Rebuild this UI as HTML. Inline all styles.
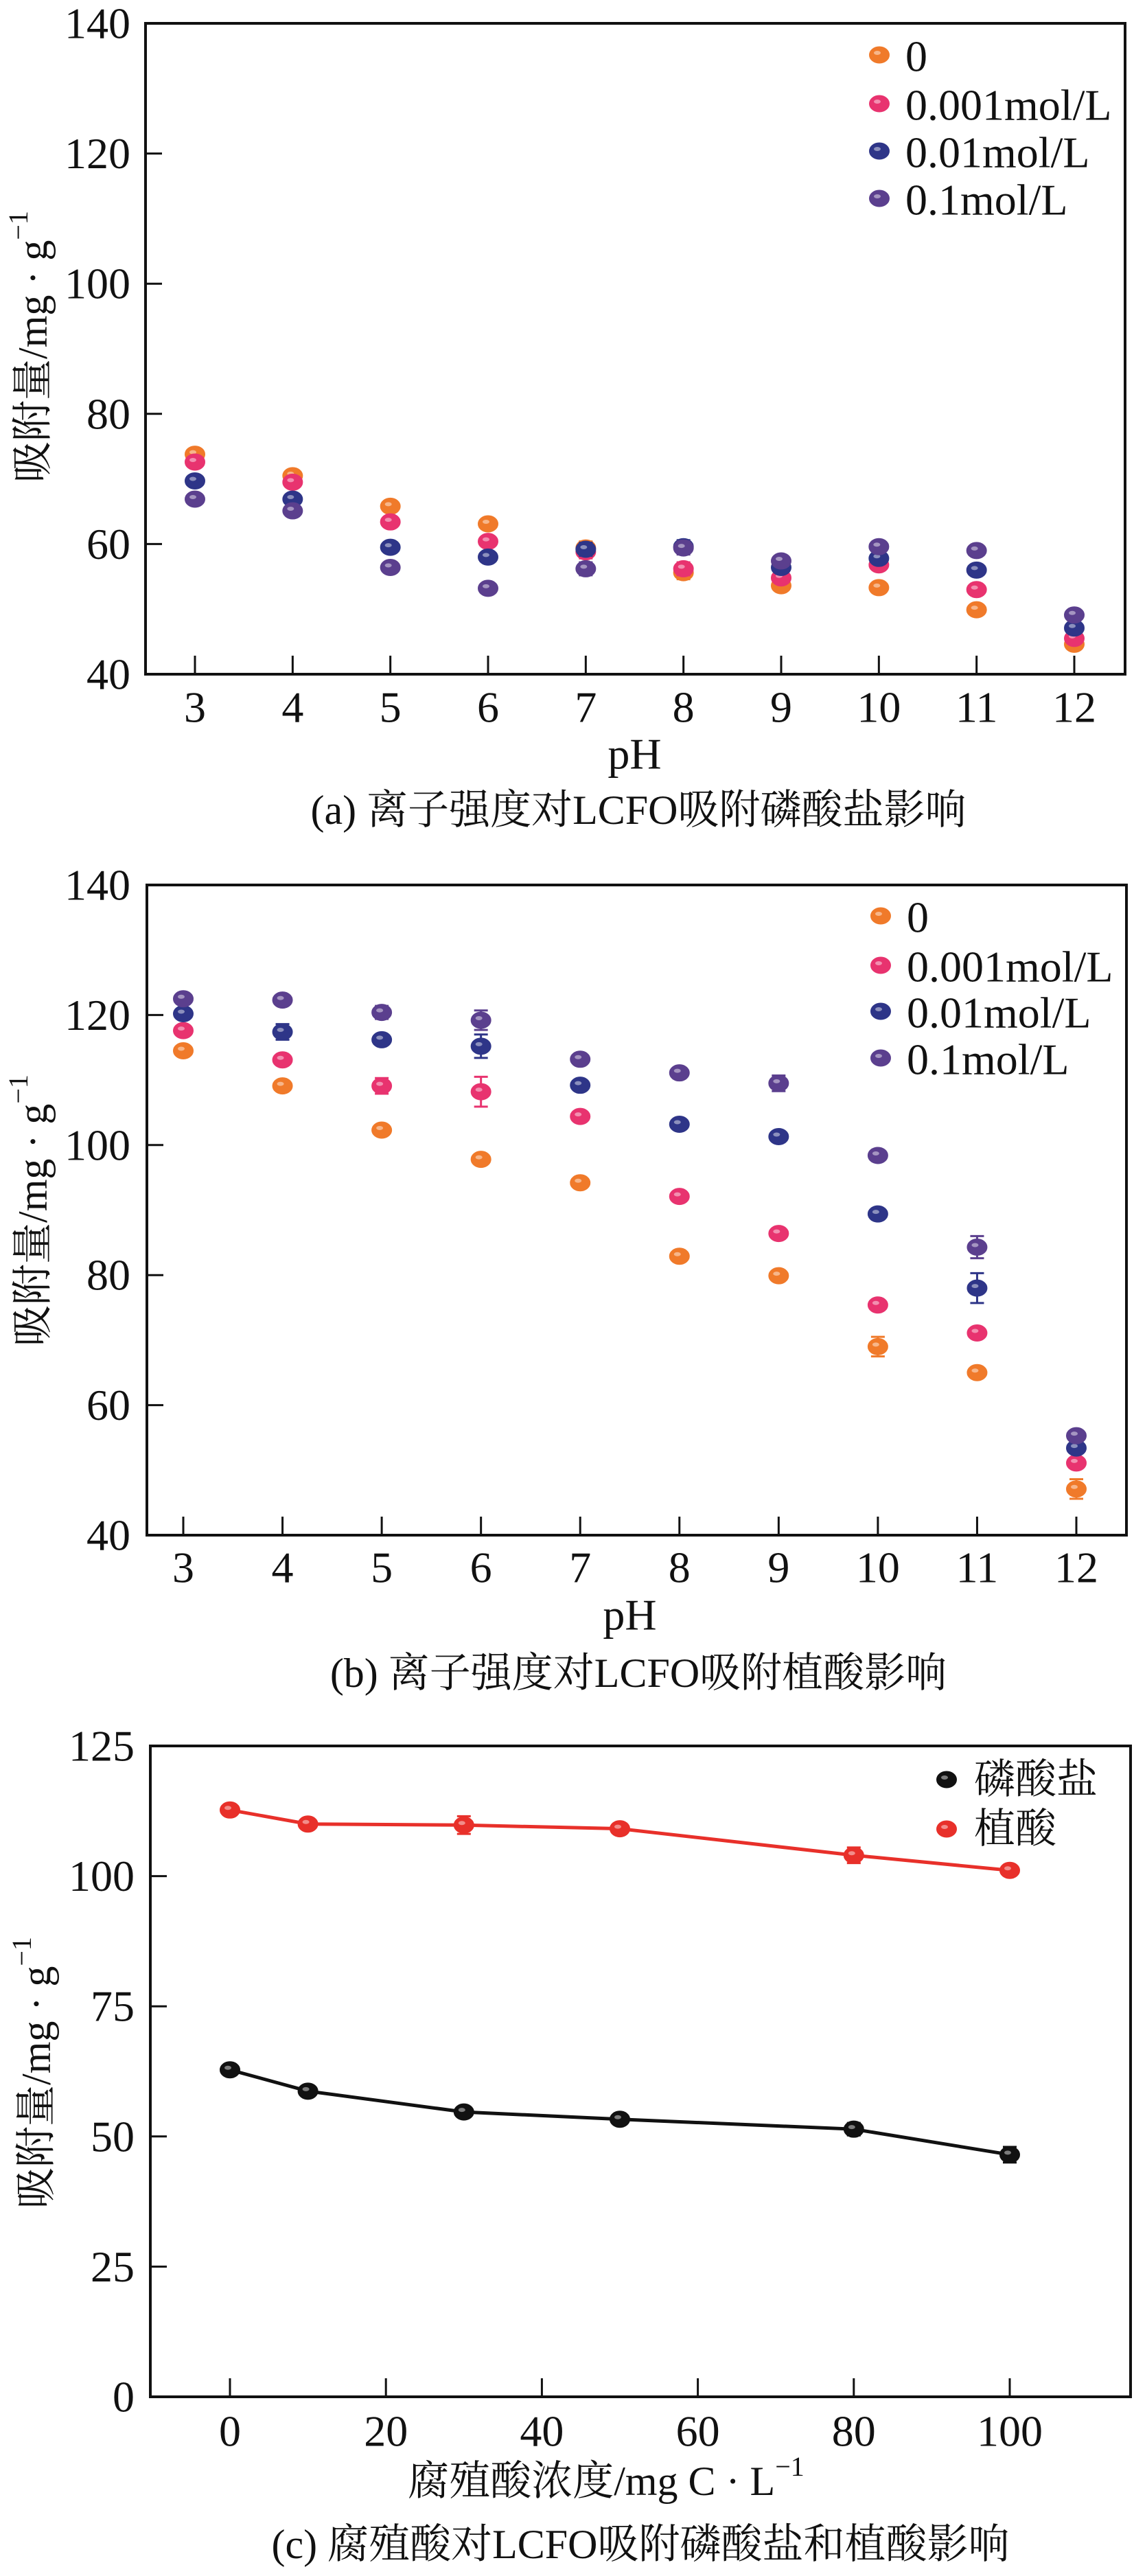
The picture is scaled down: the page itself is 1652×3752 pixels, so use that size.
<!DOCTYPE html>
<html><head><meta charset="utf-8">
<style>
html,body{margin:0;padding:0;background:#fff;}
svg{display:block;}
text{font-family:"Liberation Serif","Noto Serif CJK SC","Noto Sans CJK SC",serif;fill:#111;}
.tk{font-size:64px;}
.cap{font-size:60px;}
</style></head>
<body>
<svg id="fig" width="1652" height="3752" viewBox="0 0 1652 3752" xmlns="http://www.w3.org/2000/svg"></svg>
<script>
// ---------- data ----------
const phCats = [3,4,5,6,7,8,9,10,11,12];
const seriesNames = ["0","0.001mol/L","0.01mol/L","0.1mol/L"];
const aOrange = [73.8,70.5,65.8,63.1,59.4,55.6,53.6,53.3,49.9,44.6];
const aPink   = [72.6,69.5,63.4,60.4,58.8,56.2,54.8,56.8,53.0,45.5];
const aBlue   = [69.7,66.9,59.5,58.0,59.2,59.6,56.4,57.8,56.0,47.1];
const aPurple = [66.9,65.1,56.4,53.2,56.2,59.4,57.4,59.6,59.0,49.1];
const bOrange = [114.5,109.1,102.3,97.8,94.2,82.9,79.9,69.0,65.0,47.1];
const bPink   = [117.6,113.1,109.1,108.2,104.4,92.1,86.4,75.4,71.1,51.1];
const bBlue   = [120.2,117.4,116.2,115.2,109.2,103.2,101.3,89.4,78.0,53.4];
const bPurple = [122.5,122.3,120.4,119.2,113.2,111.1,109.5,98.4,84.3,55.3];
const bErrOrange=[0.6,0.6,0.6,0.6,0.8,0.8,0.6,1.5,0.6,1.5];
const bErrPink  =[0.6,0.6,1.2,2.3,0.8,0.6,0.6,0.6,0.8,0.8];
const bErrBlue  =[0.6,1.2,0.8,1.8,0.6,0.6,0.8,0.8,2.3,0.8];
const bErrPurple=[0.8,0.6,1.0,1.5,0.8,0.6,1.2,0.8,1.7,0.8];
const aErr = [0.8,0.8,0.8,0.8,1.0,1.0,0.8,0.8,0.8,0.6];
const phTicks = [40,60,80,100,120,140];
const haConc = [0,10,30,50,80,100];
const phosphate = [62.8,58.7,54.7,53.3,51.4,46.5];
const phytic = [112.7,110.0,109.8,109.1,104.0,101.1];
const phosErr = [0.8,0.8,0.8,1.0,1.2,1.5];
const phytErr = [0.6,0.6,1.7,0.8,1.5,0.8];
const cYTicks = [0,25,50,75,100,125];
const cXTicks = [0,20,40,60,80,100];
const colors = ["#f07a2a","#e8336f","#2e3588","#5b3f8e"];

const NS="http://www.w3.org/2000/svg";
const svg=document.getElementById('fig');
function mk(tag,attrs,parent){const e=document.createElementNS(NS,tag);for(const k in attrs)e.setAttribute(k,attrs[k]);(parent||svg).appendChild(e);return e;}
function txt(s,x,y,cls,anchor,parent){const t=mk('text',{x:x,y:y,'class':cls,'text-anchor':anchor||'middle','dominant-baseline':'central'},parent);t.textContent=s;return t;}

function marker(g,x,y,c){
  const m=mk('ellipse',{cx:x,cy:y,rx:14,ry:11.5,fill:c,stroke:c,'stroke-width':2},g);
  mk('ellipse',{cx:x-3,cy:y-3,rx:5,ry:3,fill:'#fff','fill-opacity':0.45},g);
  return m;
}
function errbar(g,x,y0,y1,c){
  mk('line',{x1:x,y1:y0,x2:x,y2:y1,stroke:c,'stroke-width':3},g);
  mk('line',{x1:x-10,y1:y0,x2:x+10,y2:y0,stroke:c,'stroke-width':3},g);
  mk('line',{x1:x-10,y1:y1,x2:x+10,y2:y1,stroke:c,'stroke-width':3},g);
}

function frame(g,L,R,T,B){
  mk('rect',{x:L,y:T,width:R-L,height:B-T,fill:'none',stroke:'#111','stroke-width':4},g);
}
function yTitle(g,x,y){
  const t=mk('text',{x:0,y:0,'class':'cap','text-anchor':'middle','dominant-baseline':'central',transform:`translate(${x},${y}) rotate(-90)`},g);
  
  
  t.innerHTML='吸附量/mg · g<tspan dy="-22" font-size="40">−1</tspan>';
}

// ---------- pH charts ----------
function phChart(id,L,R,T,B,x3,x12,data,errs,legendX,legendY,tlY,pHY,capY,capText,titleY){
  const g=mk('g',{});
  
  
  const ys=v=>B-(v-40)/100*(B-T);
  const xs=p=>x3+(p-3)/9*(x12-x3);
  frame(g,L,R,T,B);
  phTicks.forEach(v=>{
    const y=ys(v);
    if(v>40&&v<140) mk('line',{x1:L,y1:y,x2:L+24,y2:y,stroke:'#111','stroke-width':3},g);
    const t=txt(String(v),190,y,'tk','end',g);
    
    
  });
  phCats.forEach(p=>{
    const x=xs(p);
    mk('line',{x1:x,y1:B,x2:x,y2:B-27,stroke:'#111','stroke-width':3},g);
    const t=txt(String(p),x,tlY,'tk','middle',g);
    
    
  });
  const xt=txt('pH',xs(7.5),pHY,'tk','middle',g);
  
  
  yTitle(g,48,titleY);
  data.forEach((arr,si)=>{
    const sg=mk('g',{},g);
    
    
    arr.forEach((v,i)=>{
      const x=xs(phCats[i]);
      const e=errs[si][i];
      errbar(sg,x,ys(v+e),ys(v-e),colors[si]);
      const m=marker(sg,x,ys(v),colors[si]);
      
      
    });
  });
  const lg=mk('g',{},g);
  
  
  seriesNames.forEach((n,i)=>{
    marker(lg,legendX,legendY[i],colors[i]);
    const t=txt(n,legendX+38,legendY[i]+2,'tk','start',lg);
    
    
  });
  const c=txt(capText,930,capY,'cap','middle',g);
  
  
}
phChart('chart-a-phosphate',212,1639,34,982,284,1565,[aOrange,aPink,aBlue,aPurple],[aErr,aErr,aErr,aErr],1281,[80,151,220,289],1030,1098,1180,'(a) 离子强度对LCFO吸附磷酸盐影响',505);
phChart('chart-b-phytic',214,1641,1289,2236,267,1568,[bOrange,bPink,bBlue,bPurple],[bErrOrange,bErrPink,bErrBlue,bErrPurple],1283,[1334,1406,1473,1541],2283,2352,2437,'(b) 离子强度对LCFO吸附植酸影响',1763);

// ---------- chart c ----------
(function(){
  const L=219,R=1647,T=2543,B=3491,x0=335,x100=1471;
  const g=mk('g',{});
  
  
  const ys=v=>B-v/125*(B-T);
  const xs=v=>x0+v/100*(x100-x0);
  frame(g,L,R,T,B);
  cYTicks.forEach(v=>{
    const y=ys(v);
    if(v>0&&v<125) mk('line',{x1:L,y1:y,x2:L+24,y2:y,stroke:'#111','stroke-width':3},g);
    const t=txt(String(v),196,y,'tk','end',g);
    
    
  });
  cXTicks.forEach(v=>{
    const x=xs(v);
    mk('line',{x1:x,y1:B,x2:x,y2:B-27,stroke:'#111','stroke-width':3},g);
    const t=txt(String(v),x,3541,'tk','middle',g);
    
    
  });
  const xt=mk('text',{x:xs(50)-20,y:3614,'class':'cap','text-anchor':'middle','dominant-baseline':'central'},g);
  
  
  xt.innerHTML='腐殖酸浓度/mg C · L<tspan dy="-22" font-size="40">−1</tspan>';
  yTitle(g,53,3019);
  [[phosphate,phosErr,'#111','phosphate-series'],[phytic,phytErr,'#e8302a','phytic-series']].forEach(s=>{
    const sg=mk('g',{},g);
    
    
    const pts=s[0].map((v,i)=>xs(haConc[i])+','+ys(v)).join(' ');
    const pl=mk('polyline',{points:pts,fill:'none',stroke:s[2],'stroke-width':5},sg);
    
    
    s[0].forEach((v,i)=>{
      const x=xs(haConc[i]);
      errbar(sg,x,ys(v+s[1][i]),ys(v-s[1][i]),s[2]);
      const m=marker(sg,x,ys(v),s[2]);
      
      
    });
  });
  const lg=mk('g',{},g);
  
  
  [['磷酸盐','#111',2592],['植酸','#e8302a',2664]].forEach(e=>{
    marker(lg,1379,e[2],e[1]);
    const t=txt(e[0],1419,e[2],'cap','start',lg);
    
    
  });
  const c=txt('(c) 腐殖酸对LCFO吸附磷酸盐和植酸影响',933,3706,'cap','middle',g);
  
  
})();
</script>
</body></html>
